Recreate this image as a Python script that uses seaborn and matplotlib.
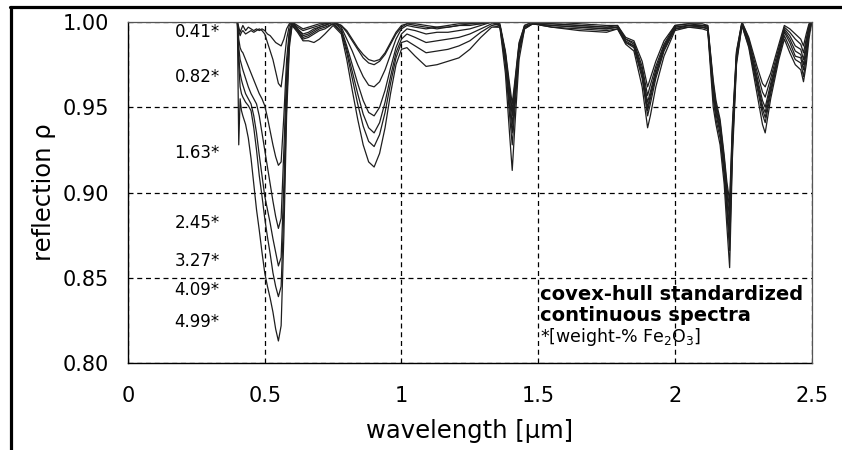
import numpy as np
import pandas as pd
import matplotlib
matplotlib.use("Agg")
import matplotlib.pyplot as plt
import seaborn as sns
from matplotlib.lines import Line2D

# wavelength grid [um], shared by all seven spectra
wl = [0.400, 0.405, 0.410, 0.415, 0.420, 0.430, 0.440, 0.450, 0.460, 0.470,
      0.480, 0.490, 0.500, 0.510, 0.520, 0.530, 0.540, 0.550, 0.560, 0.570,
      0.580, 0.590, 0.600, 0.620, 0.640, 0.660, 0.680, 0.700, 0.720, 0.750,
      0.780, 0.800, 0.820, 0.840, 0.860, 0.880, 0.900, 0.920, 0.940, 0.960,
      0.980, 1.000, 1.020, 1.050, 1.090, 1.130, 1.170, 1.210, 1.250, 1.290,
      1.330, 1.360, 1.380, 1.395, 1.405, 1.415, 1.430, 1.450, 1.480, 1.550,
      1.650, 1.750, 1.790, 1.820, 1.850, 1.880, 1.900, 1.910, 1.930, 1.960,
      2.000, 2.050, 2.100, 2.120, 2.140, 2.150, 2.165, 2.180, 2.190, 2.200,
      2.210, 2.225, 2.245, 2.270, 2.300, 2.320, 2.330, 2.350, 2.380, 2.400,
      2.420, 2.440, 2.460, 2.470, 2.480, 2.490, 2.500]

# continuum removed reflection, one list per Fe2O3 content
fe_041 = [1.000, 0.997, 0.994, 0.996, 0.998, 0.995, 0.997, 0.996, 0.995, 0.996, 0.995, 0.996, 0.995, 0.993, 0.992, 0.990, 0.988, 0.987, 0.986, 0.990, 0.996, 0.999, 1.000,
          0.998, 0.996, 0.997, 0.998, 0.999, 0.999, 1.000,
          0.998, 0.995, 0.990, 0.985, 0.981, 0.978, 0.977, 0.978, 0.982, 0.988, 0.994, 0.998,
          0.999, 0.999, 0.998, 0.997, 0.998, 0.999, 0.999, 1.000, 1.000,
          0.999, 0.983, 0.964, 0.952, 0.966, 0.988, 0.998, 1.000,
          1.000, 0.999, 0.998,
          0.998, 0.991, 0.989, 0.977, 0.962, 0.967, 0.977, 0.989, 0.998,
          0.999, 0.999,
          0.998, 0.966, 0.954, 0.943, 0.922, 0.906, 0.895, 0.940, 0.983, 1.000,
          0.991, 0.974, 0.964, 0.962, 0.970, 0.987,
          0.998, 0.996, 0.993, 0.990, 0.986, 0.993, 0.999, 1.000]
fe_082 = [1.000, 0.995, 0.992, 0.994, 0.995, 0.993, 0.994, 0.995, 0.994, 0.995, 0.996, 0.995, 0.993, 0.988, 0.983, 0.978, 0.971, 0.964, 0.962, 0.975, 0.990, 0.998, 1.000,
          0.997, 0.995, 0.996, 0.997, 0.998, 0.999, 1.000,
          0.998, 0.994, 0.989, 0.984, 0.979, 0.976, 0.975, 0.977, 0.981, 0.987, 0.993, 0.997,
          0.999, 0.998, 0.997, 0.996, 0.997, 0.998, 0.999, 0.999, 1.000,
          0.998, 0.982, 0.961, 0.948, 0.964, 0.987, 0.998, 1.000,
          0.999, 0.998, 0.997,
          0.998, 0.990, 0.988, 0.974, 0.957, 0.963, 0.974, 0.987, 0.998,
          0.999, 0.998,
          0.998, 0.964, 0.952, 0.941, 0.920, 0.903, 0.890, 0.937, 0.982, 1.000,
          0.990, 0.971, 0.959, 0.956, 0.967, 0.985,
          0.997, 0.994, 0.990, 0.987, 0.982, 0.990, 0.998, 1.000]
fe_163 = [1.000, 0.990, 0.985, 0.983, 0.982, 0.978, 0.974, 0.970, 0.966, 0.962, 0.958, 0.955, 0.951, 0.944, 0.936, 0.928, 0.921, 0.916, 0.918, 0.945, 0.978, 0.995, 1.000,
          0.996, 0.993, 0.994, 0.996, 0.997, 0.998, 1.000,
          0.997, 0.990, 0.983, 0.975, 0.968, 0.963, 0.962, 0.965, 0.972, 0.981, 0.990, 0.996,
          0.998, 0.997, 0.996, 0.997, 0.997, 0.998, 0.998, 0.999, 1.000,
          0.998, 0.981, 0.959, 0.945, 0.962, 0.986, 0.997, 0.999,
          0.999, 0.998, 0.997,
          0.997, 0.990, 0.987, 0.972, 0.953, 0.959, 0.972, 0.986, 0.997,
          0.998, 0.998,
          0.997, 0.962, 0.950, 0.939, 0.918, 0.900, 0.884, 0.934, 0.981, 0.999,
          0.989, 0.968, 0.954, 0.950, 0.964, 0.983,
          0.996, 0.992, 0.986, 0.984, 0.978, 0.988, 0.997, 1.000]
fe_245 = [1.000, 0.985, 0.978, 0.975, 0.972, 0.967, 0.962, 0.958, 0.955, 0.952, 0.945, 0.935, 0.925, 0.915, 0.905, 0.895, 0.886, 0.879, 0.885, 0.925, 0.970, 0.993, 1.000,
          0.996, 0.992, 0.993, 0.995, 0.997, 0.998, 1.000,
          0.996, 0.986, 0.975, 0.964, 0.954, 0.947, 0.945, 0.950, 0.960, 0.973, 0.985, 0.993,
          0.996, 0.995, 0.993, 0.994, 0.994, 0.995, 0.996, 0.998, 1.000,
          0.998, 0.979, 0.955, 0.940, 0.958, 0.985, 0.997, 0.999,
          0.998, 0.997, 0.996,
          0.997, 0.989, 0.986, 0.970, 0.950, 0.957, 0.970, 0.985, 0.997,
          0.998, 0.997,
          0.997, 0.960, 0.948, 0.937, 0.915, 0.896, 0.878, 0.931, 0.980, 0.999,
          0.988, 0.966, 0.951, 0.947, 0.962, 0.982,
          0.995, 0.990, 0.983, 0.981, 0.975, 0.985, 0.996, 1.000]
fe_327 = [1.000, 0.980, 0.970, 0.966, 0.963, 0.958, 0.955, 0.952, 0.945, 0.935, 0.922, 0.910, 0.898, 0.890, 0.882, 0.873, 0.865, 0.857, 0.862, 0.905, 0.960, 0.990, 0.999,
          0.995, 0.991, 0.992, 0.994, 0.996, 0.997, 0.999,
          0.995, 0.984, 0.971, 0.958, 0.946, 0.938, 0.935, 0.941, 0.953, 0.968, 0.982, 0.990,
          0.993, 0.991, 0.988, 0.989, 0.990, 0.991, 0.993, 0.996, 0.999,
          0.998, 0.977, 0.951, 0.935, 0.955, 0.984, 0.997, 0.999,
          0.998, 0.997, 0.996,
          0.997, 0.988, 0.986, 0.969, 0.948, 0.955, 0.969, 0.984, 0.996,
          0.998, 0.997,
          0.996, 0.958, 0.946, 0.935, 0.913, 0.892, 0.872, 0.928, 0.978, 0.999,
          0.987, 0.964, 0.949, 0.944, 0.960, 0.981,
          0.994, 0.988, 0.980, 0.979, 0.972, 0.982, 0.994, 1.000]
fe_409 = [1.000, 0.975, 0.962, 0.958, 0.956, 0.953, 0.951, 0.948, 0.938, 0.925, 0.910, 0.898, 0.885, 0.874, 0.864, 0.853, 0.845, 0.839, 0.845, 0.890, 0.952, 0.988, 0.998,
          0.995, 0.990, 0.991, 0.993, 0.995, 0.996, 0.999,
          0.994, 0.982, 0.967, 0.952, 0.939, 0.930, 0.927, 0.934, 0.947, 0.964, 0.979, 0.988,
          0.989, 0.986, 0.982, 0.983, 0.984, 0.986, 0.989, 0.994, 0.998,
          0.997, 0.975, 0.946, 0.928, 0.950, 0.982, 0.996, 0.999,
          0.997, 0.996, 0.995,
          0.996, 0.988, 0.985, 0.967, 0.945, 0.952, 0.967, 0.983, 0.996,
          0.997, 0.997,
          0.996, 0.955, 0.943, 0.932, 0.910, 0.888, 0.866, 0.925, 0.977, 0.998,
          0.986, 0.962, 0.946, 0.941, 0.958, 0.980,
          0.992, 0.985, 0.978, 0.976, 0.968, 0.979, 0.993, 1.000]
fe_499 = [1.000, 0.928, 0.955, 0.948, 0.945, 0.940, 0.932, 0.920, 0.905, 0.890, 0.878, 0.865, 0.853, 0.845, 0.838, 0.830, 0.820, 0.813, 0.822, 0.875, 0.945, 0.985, 0.998,
          0.994, 0.989, 0.989, 0.988, 0.990, 0.993, 0.998,
          0.993, 0.978, 0.960, 0.943, 0.928, 0.918, 0.915, 0.923, 0.938, 0.958, 0.975, 0.984,
          0.985, 0.980, 0.974, 0.975, 0.977, 0.979, 0.984, 0.991, 0.997,
          0.997, 0.970, 0.935, 0.913, 0.940, 0.978, 0.996, 0.999,
          0.997, 0.995, 0.994,
          0.996, 0.987, 0.983, 0.962, 0.938, 0.945, 0.962, 0.980, 0.995,
          0.997, 0.996,
          0.995, 0.950, 0.940, 0.928, 0.905, 0.880, 0.856, 0.920, 0.975, 0.998,
          0.985, 0.958, 0.940, 0.935, 0.955, 0.978,
          0.990, 0.982, 0.975, 0.972, 0.965, 0.975, 0.990, 1.000]

fe_labels = ["0.41*", "0.82*", "1.63*", "2.45*", "3.27*", "4.09*", "4.99*"]
label_y = [0.994, 0.968, 0.923, 0.882, 0.860, 0.843, 0.824]

spectra = [fe_041, fe_082, fe_163, fe_245, fe_327, fe_409, fe_499]
df = pd.concat([pd.DataFrame({"wavelength": wl, "reflection": s, "sample": lab})
                for s, lab in zip(spectra, fe_labels)], ignore_index=True)

sns.set_theme(style="white")
plt.rcParams["font.family"] = ["DejaVu Sans"]

fig = plt.figure(figsize=(8.42, 4.5), dpi=100)
ax = fig.add_axes([0.152, 0.193, 0.812, 0.758])

sns.lineplot(data=df, x="wavelength", y="reflection", units="sample",
             estimator=None, color="#1e1e1e", lw=0.9, ax=ax)

ax.set_xlim(0, 2.5)
ax.set_ylim(0.80, 1.00)
ax.set_xticks([0, 0.5, 1, 1.5, 2, 2.5])
ax.set_xticklabels(["0", "0.5", "1", "1.5", "2", "2.5"])
ax.set_yticks([0.80, 0.85, 0.90, 0.95, 1.00])
ax.set_yticklabels(["0.80", "0.85", "0.90", "0.95", "1.00"])
ax.tick_params(axis="both", direction="inout", length=9, width=0.9,
               color="black", labelsize=15, labelcolor="black")
ax.tick_params(axis="y", pad=9)
ax.tick_params(axis="x", pad=12)
ax.grid(True, color="black", lw=0.9, ls=(0, (4, 3)))
ax.set_axisbelow(True)

for side in ["left", "bottom"]:
    ax.spines[side].set_color("black")
    ax.spines[side].set_linewidth(1.0)
for side in ["top", "right"]:
    ax.spines[side].set_color("#555555")
    ax.spines[side].set_linewidth(0.9)
    ax.spines[side].set_zorder(5)

ax.set_xlabel("wavelength [µm]", fontsize=17.5, color="black", labelpad=9)
ax.set_ylabel("reflection ρ", fontsize=17.5, color="black", labelpad=5)

for lab, yv in zip(fe_labels, label_y):
    ax.text(0.336, yv, lab, ha="right", va="center", fontsize=12, color="black")

ax.text(1.505, 0.840, "covex-hull standardized", fontsize=14, fontweight="bold",
        ha="left", va="center", color="black")
ax.text(1.505, 0.8282, "continuous spectra", fontsize=14, fontweight="bold",
        ha="left", va="center", color="black")
ax.text(1.505, 0.8152, "*[weight-% Fe$_2$O$_3$]", fontsize=12.5,
        ha="left", va="center", color="black")

# outer frame of the original figure (top and left edge)
fig.add_artist(Line2D([10 / 842, 1], [1 - 7 / 450, 1 - 7 / 450],
                      transform=fig.transFigure, color="black", lw=2.3))
fig.add_artist(Line2D([11 / 842, 11 / 842], [0, 1 - 7 / 450],
                      transform=fig.transFigure, color="black", lw=2.3))

fig.savefig("out.png", dpi=100)
